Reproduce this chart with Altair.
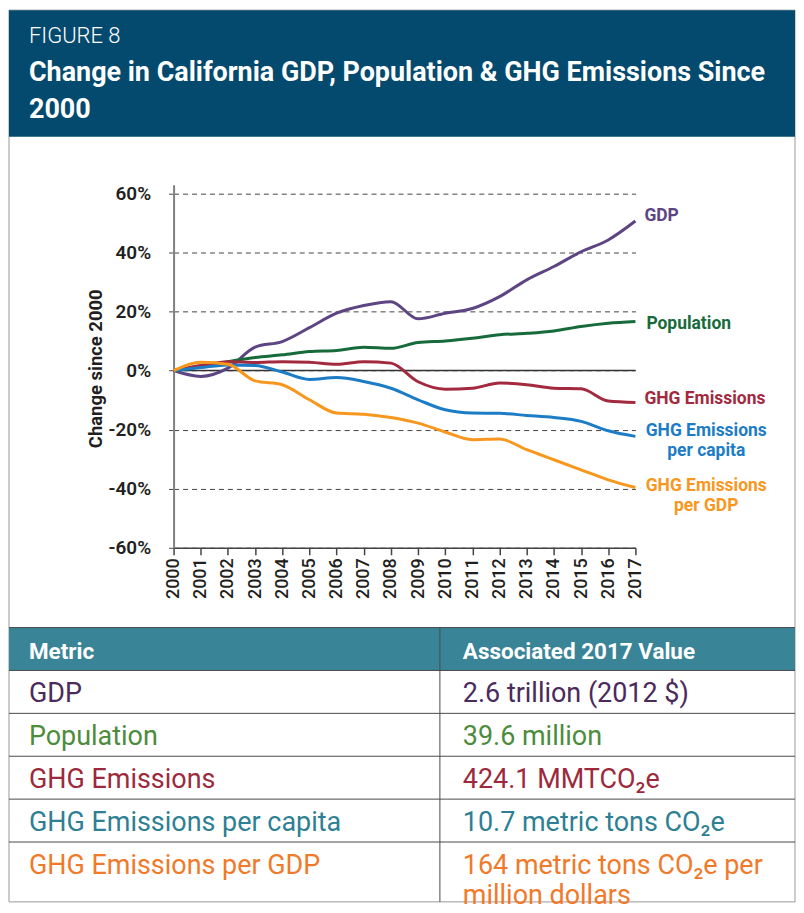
import altair as alt
import pandas as pd

# ---------------- data ----------------
years = list(range(2000, 2018))
gdp = [0, -2.0, 0.8, 7.9, 9.8, 14.5, 19.4, 22.0, 23.3, 17.5, 19.4, 21.0, 25.0, 30.7, 35.2, 40.2, 44.2, 50.6]
population = [0, 1.3, 3.0, 4.4, 5.3, 6.4, 6.8, 7.9, 7.5, 9.5, 10.0, 10.9, 12.1, 12.6, 13.4, 14.9, 16.0, 16.6]
ghg = [0, 1.7, 3.0, 2.7, 3.0, 2.8, 2.1, 3.0, 2.5, -3.8, -6.3, -6.0, -4.2, -4.8, -6.0, -6.2, -10.3, -10.8]
ghg_per_capita = [0, 1.0, 1.9, 1.7, -0.5, -3.0, -2.4, -3.7, -6.0, -9.9, -13.3, -14.4, -14.5, -15.2, -15.9, -17.2, -20.4, -22.3]
ghg_per_gdp = [0, 2.8, 2.1, -3.5, -4.8, -9.9, -14.4, -14.8, -15.9, -17.8, -20.8, -23.4, -23.2, -26.8, -30.2, -33.6, -37.0, -39.6]

series_names = ["GDP", "Population", "GHG Emissions", "GHG Emissions per capita", "GHG Emissions per GDP"]
series_values = [gdp, population, ghg, ghg_per_capita, ghg_per_gdp]
series_colors = ["#5d4482", "#176b3b", "#a3293f", "#1c7cc5", "#f8971d"]
chart_labels = ["GDP", "Population", "GHG Emissions", "GHG Emissions\nper capita", "GHG Emissions\nper GDP"]

y_ticks = [-60, -40, -20, 0, 20, 40, 60]

table_metrics = ["GDP", "Population", "GHG Emissions", "GHG Emissions per capita", "GHG Emissions per GDP"]
table_values = ["2.6 trillion (2012 $)", "39.6 million", "424.1 MMTCO₂e", "10.7 metric tons CO₂e",
                "164 metric tons CO₂e per\nmillion dollars"]
table_colors = ["#4b2a5c", "#4c8c3c", "#9c2a3c", "#2e7f93", "#f07a2a"]
table_header = ["Metric", "Associated 2017 Value"]

fig_label = "FIGURE 8"
fig_title = "Change in California GDP, Population & GHG Emissions Since\n2000"

# ---------------- layout (pixels relative to plot origin) ----------------
W, H = 463, 364
FX0, FX1, FY0, FY1 = -165, 623, -175, 719
COLDIV = 267
TABLE_TOP = 444
ROW_LINES = [487, 530, 573, 616, 659]
FONT = "Roboto"

long = pd.DataFrame(
    [{"year": y, "value": v, "series": n} for n, vals in zip(series_names, series_values) for y, v in zip(years, vals)]
)
last = pd.DataFrame({
    "series": series_names,
    "label": chart_labels,
    "year": [years[-1]] * len(series_names),
    "value": [v[-1] for v in series_values],
})


def xs():
    return alt.Scale(domain=[2000, 2017], nice=False, zero=False)


def ys():
    return alt.Scale(domain=[-60, 62.9], nice=False, zero=False)


def cs():
    return alt.Scale(domain=series_names, range=series_colors)


x_axis = alt.Axis(orient="bottom", values=years, format="d", labelAngle=270, labelFont=FONT, labelFontSize=18,
                  labelFontWeight=500, labelColor="#231f20", labelPadding=3, labelFlush=False,
                  labelAlign="right", labelBaseline="middle", labelOverlap=False,
                  tickSize=7, tickColor="#444444", tickWidth=1.5, domainColor="#444444",
                  domainWidth=1.5, grid=False, title=None)
y_axis = alt.Axis(orient="left", values=y_ticks, labelExpr="datum.value + '%'", labelFont=FONT, labelFontSize=19,
                  labelFontWeight=600, labelColor="#231f20", labelPadding=18, labelFlush=False,
                  tickSize=5, tickColor="#444444", tickDash=[5, 4], grid=True, gridColor="#444444",
                  gridDash=[5, 4], gridWidth=1, domainColor="#808080", domainWidth=2,
                  title="Change since 2000", titleFont=FONT, titleFontSize=18.5, titleFontWeight="bold",
                  titleColor="#231f20", titleX=-78, titleY=H / 2 + 2, titleAngle=270, titleAlign="center",
                  titleBaseline="middle")

lines = alt.Chart(long).mark_line(interpolate="monotone", strokeWidth=3).encode(
    x=alt.X("year:Q", scale=xs(), axis=x_axis),
    y=alt.Y("value:Q", scale=ys(), axis=y_axis),
    color=alt.Color("series:N", scale=cs(), legend=None),
    detail="series:N",
)

zero = alt.Chart(pd.DataFrame({"v": [0]})).mark_rule(color="#333333", strokeWidth=1.5).encode(
    y=alt.Y("v:Q", scale=ys(), axis=None),
    x=alt.value(0), x2=alt.value(W),
)

label_style = {
    "GDP": dict(align="left", dx=9, dy=0),
    "Population": dict(align="left", dx=11, dy=8),
    "GHG Emissions": dict(align="left", dx=9, dy=2),
    "GHG Emissions per capita": dict(align="center", dx=71, dy=0),
    "GHG Emissions per GDP": dict(align="center", dx=71, dy=4),
}
label_layers = []
for name in series_names:
    st = label_style[name]
    label_layers.append(
        alt.Chart(last).transform_filter(alt.datum.series == name).mark_text(
            font=FONT, fontSize=17.5, fontWeight="bold", baseline="alphabetic", lineBreak="\n",
            lineHeight=20, **st
        ).encode(
            x=alt.X("year:Q", scale=xs(), axis=None),
            y=alt.Y("value:Q", scale=ys(), axis=None),
            color=alt.Color("series:N", scale=cs(), legend=None),
            text="label:N",
        )
    )

# ---------------- decorations: header, frame, table ----------------
one = pd.DataFrame({"a": [0]})
base = alt.Chart(one)

frame = base.mark_rect(fillOpacity=0, stroke="#9a9a9a", strokeWidth=1).encode(
    x=alt.value(FX0), x2=alt.value(FX1), y=alt.value(FY0), y2=alt.value(FY1)
)
header_rect = base.mark_rect(color="#034a6e").encode(
    x=alt.value(FX0), x2=alt.value(FX1), y=alt.value(FY0), y2=alt.value(-48)
)
fig_text = base.mark_text(align="left", baseline="alphabetic", font=FONT, fontSize=22, fontWeight=300,
                          color="white").encode(x=alt.value(-145), y=alt.value(-142), text=alt.value(fig_label))
title_text = base.mark_text(align="left", baseline="alphabetic", font=FONT, fontSize=27, fontWeight="bold",
                            color="white", lineBreak="\n", lineHeight=37).encode(
    x=alt.value(-145), y=alt.value(-104), text=alt.value(fig_title))

table_head_rect = base.mark_rect(color="#3a8497").encode(
    x=alt.value(FX0), x2=alt.value(FX1), y=alt.value(TABLE_TOP), y2=alt.value(ROW_LINES[0])
)
table_rules = [
    base.mark_rule(color="#4a4a4a", strokeWidth=1).encode(
        x=alt.value(FX0), x2=alt.value(FX1), y=alt.value(yy))
    for yy in [TABLE_TOP] + ROW_LINES
]
table_div = base.mark_rule(color="#4a4a4a", strokeWidth=1).encode(
    x=alt.value(COLDIV), y=alt.value(TABLE_TOP), y2=alt.value(FY1))

col_scale = alt.Scale(type="point", domain=["Metric", "Value"], range=[-145, 290], padding=0)

head_df = pd.DataFrame({"col": ["Metric", "Value"], "text": table_header})
head_text = alt.Chart(head_df).mark_text(align="left", baseline="alphabetic", font=FONT, fontSize=22.5,
                                          fontWeight="bold", color="white").encode(
    x=alt.X("col:N", scale=col_scale, axis=None),
    y=alt.value(476),
    text="text:N",
)

tbl = pd.DataFrame(
    [{"metric": m, "col": "Metric", "text": m} for m in table_metrics]
    + [{"metric": m, "col": "Value", "text": v} for m, v in zip(table_metrics, table_values)]
)
table_text = alt.Chart(tbl).mark_text(align="left", baseline="alphabetic", font=FONT, fontSize=27,
                                      lineBreak="\n", lineHeight=30).encode(
    x=alt.X("col:N", scale=col_scale, axis=None),
    y=alt.Y("metric:N", scale=alt.Scale(type="point", domain=table_metrics, range=[519, 691], padding=0),
            axis=None),
    color=alt.Color("metric:N", scale=alt.Scale(domain=table_metrics, range=table_colors), legend=None),
    text="text:N",
)

chart = alt.layer(
    frame, header_rect, fig_text, title_text,
    table_head_rect, *table_rules, table_div, head_text, table_text,
    zero, lines, *label_layers,
).resolve_scale(
    x="independent", y="independent", color="independent"
).properties(
    width=W, height=H, padding=0, background="white"
).configure_view(strokeWidth=0)

chart.save("out.html", embed_options={"renderer": "svg", "actions": False})
